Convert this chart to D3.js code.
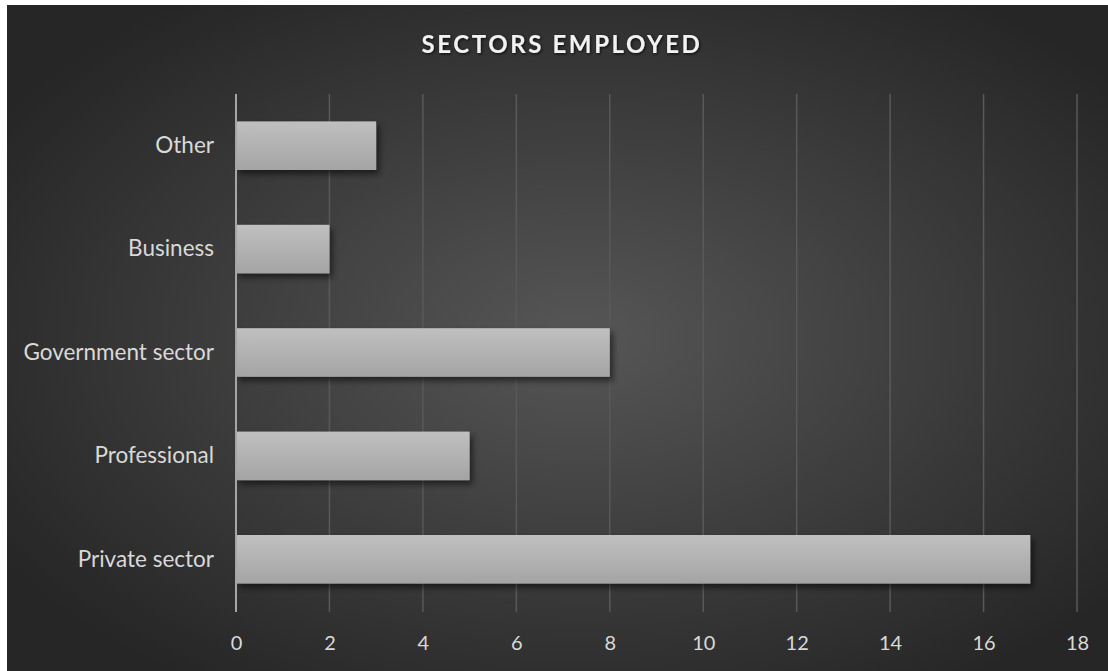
<!DOCTYPE html>
<html>
<head>
<meta charset="utf-8">
<script src="https://cdn.jsdelivr.net/npm/d3@7"></script>
<style>
  body { margin: 0; background: #fff; }
  text { font-family: Lato, "Open Sans", sans-serif; }
</style>
</head>
<body>
<div id="chart"></div>
<script>
// data
const sectors = ["Private sector", "Professional", "Government sector", "Business", "Other"]
const counts = [17, 5, 8, 2, 3]
const xTicks = [0, 2, 4, 6, 8, 10, 12, 14, 16, 18]
const title = "SECTORS EMPLOYED"

const width = 1108
const height = 671
const margin = { top: 94, right: 31, bottom: 60, left: 236 }

const svg = d3
  .select("#chart")
  .append("svg")
  .attr("width", width)
  .attr("height", height)

const defs = svg.append("defs")

// dark radial background
const bg = defs
  .append("radialGradient")
  .attr("id", "bg")
  .attr("cx", "52%")
  .attr("cy", "50%")
  .attr("r", "62%")
bg.append("stop").attr("offset", "0%").attr("stop-color", "#565656")
bg.append("stop").attr("offset", "100%").attr("stop-color", "#262626")

// bar fill
const barGrad = defs
  .append("linearGradient")
  .attr("id", "bar")
  .attr("x1", "0%")
  .attr("y1", "0%")
  .attr("x2", "0%")
  .attr("y2", "100%")
barGrad.append("stop").attr("offset", "0%").attr("stop-color", "#c0c0c0")
barGrad.append("stop").attr("offset", "100%").attr("stop-color", "#a4a4a4")

const shadow = defs.append("filter").attr("id", "shadow").attr("x", "-10%").attr("y", "-30%").attr("width", "130%").attr("height", "180%")
shadow
  .append("feDropShadow")
  .attr("dx", 3)
  .attr("dy", 4)
  .attr("stdDeviation", 3)
  .attr("flood-color", "#000")
  .attr("flood-opacity", 0.55)

const tshadow = defs.append("filter").attr("id", "tshadow")
tshadow
  .append("feDropShadow")
  .attr("dx", 1)
  .attr("dy", 1)
  .attr("stdDeviation", 1.5)
  .attr("flood-color", "#000")
  .attr("flood-opacity", 0.8)

svg
  .append("rect")
  .attr("x", 7)
  .attr("y", 5)
  .attr("width", width - 7)
  .attr("height", height - 5)
  .style("fill", "url(#bg)")

const x = d3
  .scaleLinear()
  .domain([0, 18])
  .range([margin.left, width - margin.right])

const y = d3
  .scaleBand()
  .domain(sectors.slice().reverse())
  .range([margin.top, height - margin.bottom])
  .paddingInner(0.53)
  .paddingOuter(0.265)

//grid lines
svg
  .append("g")
  .selectAll("line")
  .data(xTicks.slice(1))
  .enter()
  .append("line")
  .attr("x1", (d) => x(d))
  .attr("x2", (d) => x(d))
  .attr("y1", margin.top)
  .attr("y2", height - margin.bottom + 1)
  .style("stroke", "#595959")
  .style("stroke-width", 1.5)

//bars
svg
  .append("g")
  .selectAll("rect")
  .data(sectors)
  .enter()
  .append("rect")
  .attr("x", x(0))
  .attr("y", (d) => y(d))
  .attr("width", (d, i) => x(counts[i]) - x(0))
  .attr("height", y.bandwidth())
  .style("fill", "url(#bar)")
  .attr("filter", "url(#shadow)")

//axis line at zero
svg
  .append("line")
  .attr("x1", x(0))
  .attr("x2", x(0))
  .attr("y1", margin.top)
  .attr("y2", height - margin.bottom + 1)
  .style("stroke", "#a6a6a6")
  .style("stroke-width", 2)

//x axis labels
const xAxis = d3.axisBottom(x).tickValues(xTicks).tickSize(0).tickPadding(25)
const gx = svg
  .append("g")
  .attr("transform", "translate(0," + (height - margin.bottom) + ")")
  .call(xAxis)
gx.select(".domain").remove()
gx.selectAll("text")
  .style("fill", "#d9d9d9")
  .style("font-size", "20px")
  .style("font-family", "Lato, 'Open Sans', sans-serif")

//y axis labels
const yAxis = d3.axisLeft(y).tickSize(0).tickPadding(22)
const gy = svg
  .append("g")
  .attr("transform", "translate(" + margin.left + ",0)")
  .call(yAxis)
gy.select(".domain").remove()
gy.selectAll("text")
  .style("fill", "#d9d9d9")
  .style("font-size", "22.5px")
  .style("font-family", "Lato, 'Open Sans', sans-serif")

//title
svg
  .append("text")
  .attr("x", 562)
  .attr("y", 53)
  .attr("text-anchor", "middle")
  .style("fill", "#f2f2f2")
  .style("font-size", "24px")
  .style("font-weight", "bold")
  .style("letter-spacing", "2.6px")
  .attr("filter", "url(#tshadow)")
  .text(title)
</script>
</body>
</html>
